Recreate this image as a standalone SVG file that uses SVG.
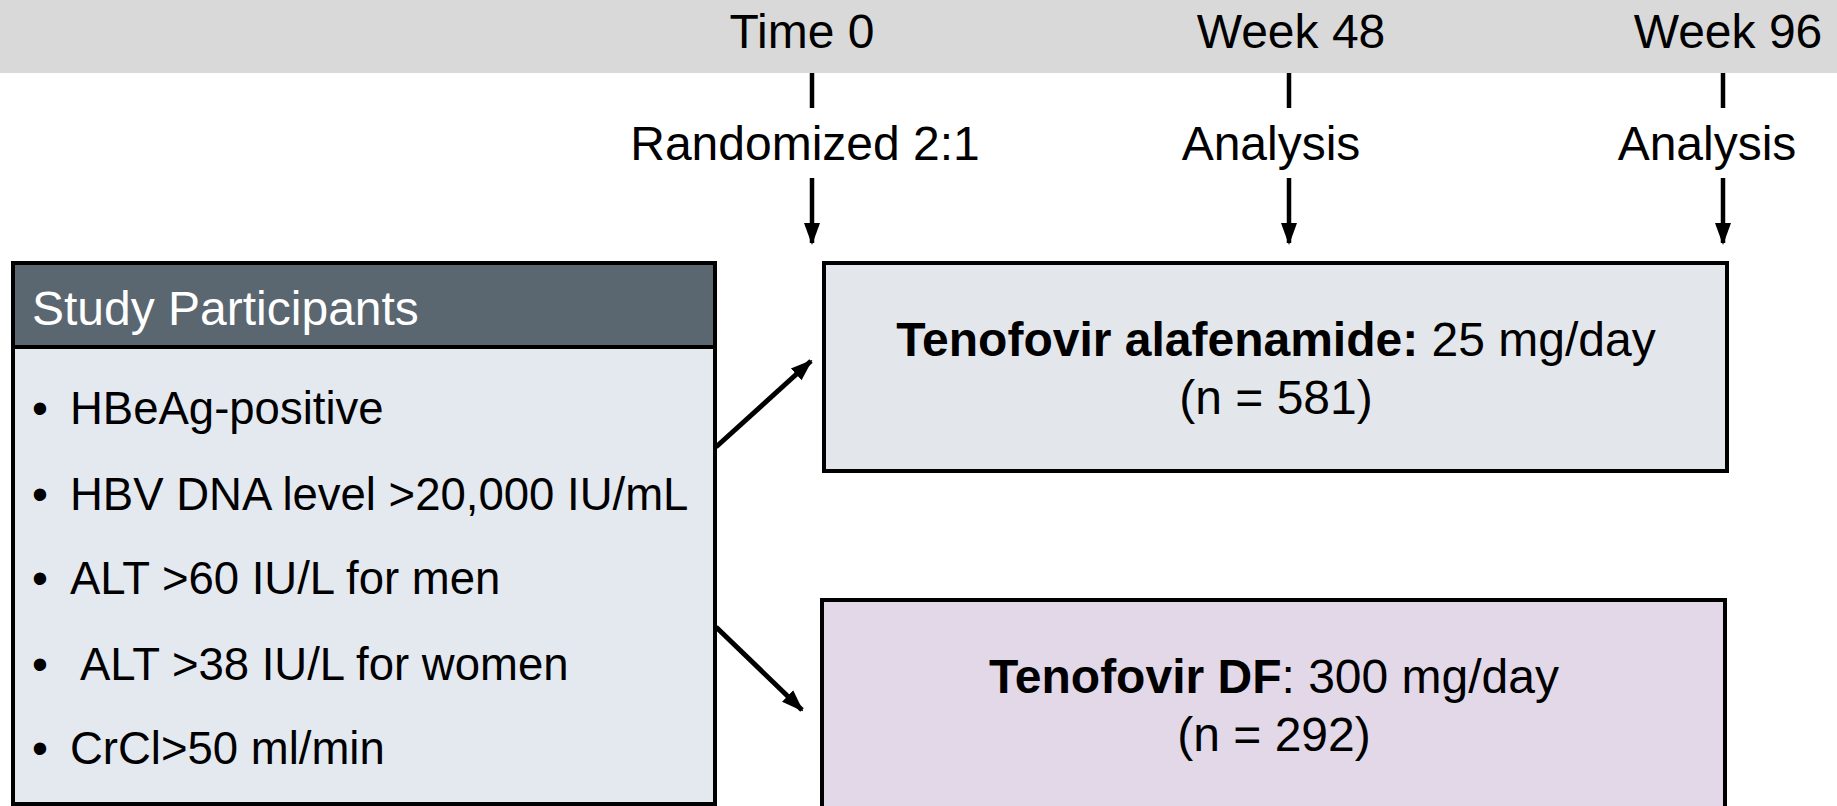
<svg xmlns="http://www.w3.org/2000/svg" width="1837" height="806" viewBox="0 0 1837 806">
<style>
.t{font-family:"Liberation Sans",Arial,sans-serif;font-size:48px;fill:#000}
.li{font-size:45.5px}
.c{text-anchor:middle}
.b{font-weight:bold}
.w{fill:#fff}
.ln{stroke:#000;stroke-width:4.5;fill:none}
.dg{stroke:#000;stroke-width:5;fill:none}
</style>
<defs>
<marker id="ah" markerUnits="userSpaceOnUse" markerWidth="22" markerHeight="22" viewBox="0 0 22 22" refX="20" refY="11" orient="auto">
<path d="M0,3 L22,11 L0,19 Z" fill="#000"/>
</marker>
</defs>
<rect x="0" y="0" width="1837" height="73" fill="#d9d9d9"/>
<g id="timeline">
<text class="t c" x="802" y="48">Time 0</text>
<text class="t c" x="1291" y="48">Week 48</text>
<text class="t c" x="1728" y="48">Week 96</text>
<text class="t c" x="805" y="160">Randomized 2:1</text>
<text class="t c" x="1271" y="160">Analysis</text>
<text class="t c" x="1707" y="160">Analysis</text>
</g>
<g id="participants">
<rect x="13" y="263" width="702" height="541" fill="#e4e8ef" stroke="#000" stroke-width="4"/>
<rect x="13" y="263" width="702" height="84" fill="#5a6670" stroke="#000" stroke-width="4"/>
<text class="t w" x="32" y="325">Study Participants</text>
<text class="t li" x="32" y="424">•</text><text class="t li" x="70" y="424">HBeAg-positive</text>
<text class="t li" x="32" y="510">•</text><text class="t li" x="70" y="510">HBV DNA level &gt;20,000 IU/mL</text>
<text class="t li" x="32" y="594">•</text><text class="t li" x="70" y="594">ALT &gt;60 IU/L for men</text>
<text class="t li" x="32" y="680">•</text><text class="t li" x="80" y="680">ALT &gt;38 IU/L for women</text>
<text class="t li" x="32" y="764">•</text><text class="t li" x="70" y="764">CrCl&gt;50 ml/min</text>
</g>
<g id="taf">
<rect x="824" y="263" width="903" height="208" fill="#e3e7eb" stroke="#000" stroke-width="4"/>
<text class="t c" x="1276" y="356"><tspan class="b">Tenofovir alafenamide:</tspan> 25 mg/day</text>
<text class="t c" x="1276" y="414">(n = 581)</text>
</g>
<g id="tdf">
<rect x="822" y="600" width="903" height="210" fill="#e2d8e8" stroke="#000" stroke-width="4"/>
<text class="t c" x="1274" y="693"><tspan class="b">Tenofovir DF</tspan>: 300 mg/day</text>
<text class="t c" x="1274" y="751">(n = 292)</text>
</g>
<g id="connectors">
<line class="ln" x1="812" y1="73" x2="812" y2="108"/>
<line class="ln" x1="1289" y1="73" x2="1289" y2="108"/>
<line class="ln" x1="1723" y1="73" x2="1723" y2="108"/>
<line class="ln" x1="812" y1="178" x2="812" y2="243" marker-end="url(#ah)"/>
<line class="ln" x1="1289" y1="178" x2="1289" y2="243" marker-end="url(#ah)"/>
<line class="ln" x1="1723" y1="178" x2="1723" y2="243" marker-end="url(#ah)"/>
<line class="dg" x1="716" y1="447" x2="811" y2="361" marker-end="url(#ah)"/>
<line class="dg" x1="716" y1="627" x2="802" y2="710" marker-end="url(#ah)"/>
</g>
</svg>
